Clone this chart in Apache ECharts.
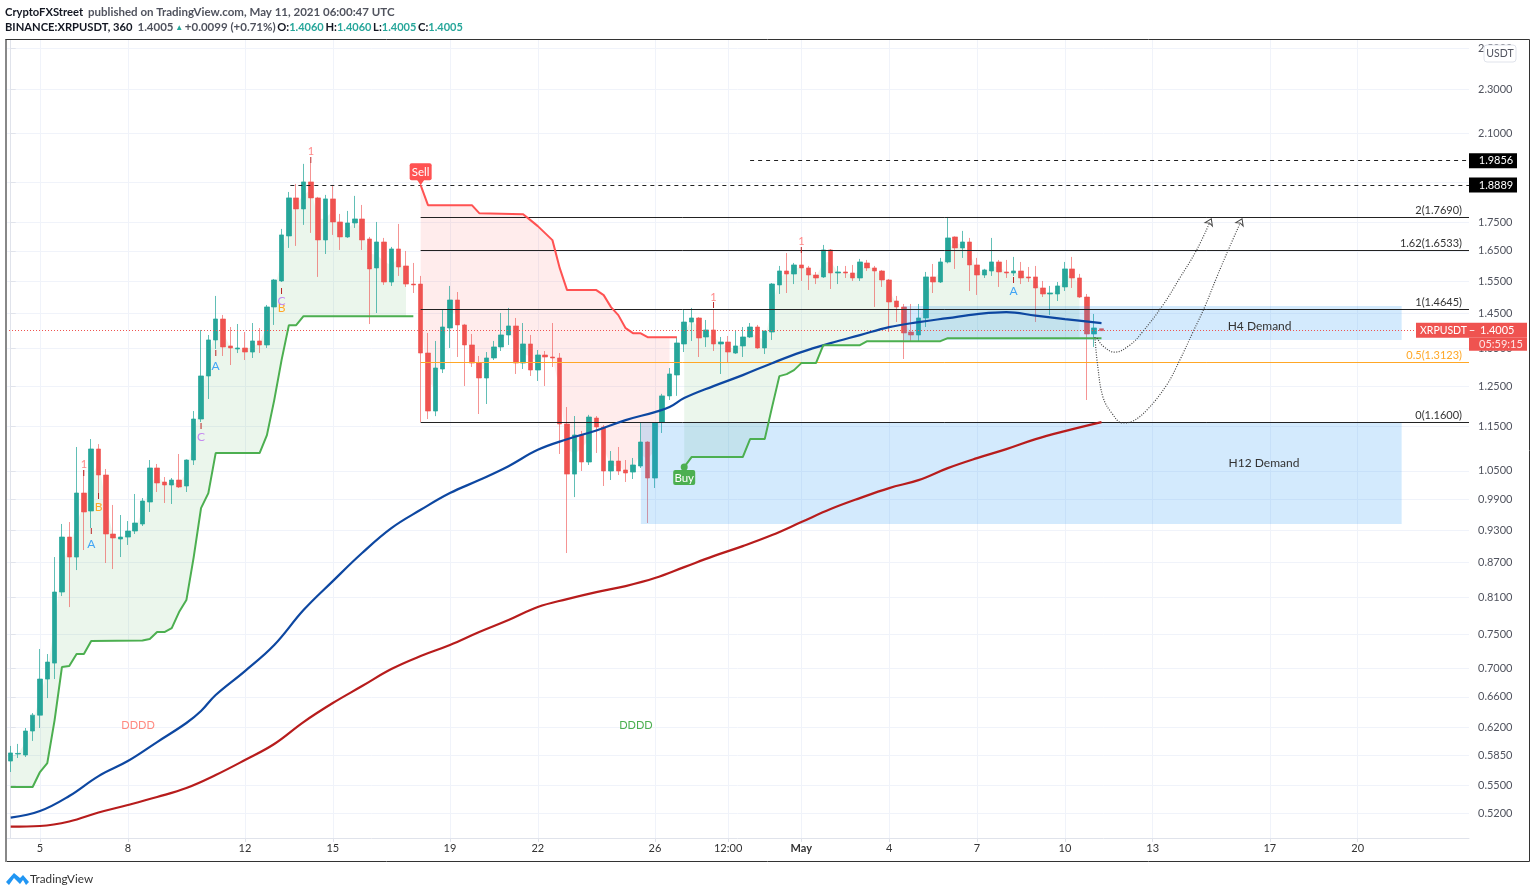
<!DOCTYPE html>
<html><head><meta charset="utf-8">
<style>html,body{margin:0;padding:0;background:#fff}#c{width:1536px;height:895px}</style>
<script src="https://cdn.jsdelivr.net/npm/echarts@6/dist/echarts.min.js"></script>
</head><body><div id="c"></div>
<script>
// x unit = one 6-hour candle; index 0 = 4 Apr 2021 00:00 UTC
const xTickIdx = [4,16,32,44,60,72,88,98,108,120,132,144,156,172,184];
const xTickLabels = ['5','8','12','15','19','22','26','12:00','May','4','7','10','13','17','20'];
const yTicks = [2.5,2.3,2.1,1.9,1.75,1.65,1.55,1.45,1.35,1.25,1.15,1.05,0.99,0.93,0.87,0.81,0.75,0.70,0.66,0.62,0.585,0.55,0.52];
// open, high, low, close
const ohlc = [
[.5786,.5968,.5657,.5883],[.5870,.5993,.5822,.5877],[.5858,.6192,.5834,.6154],[.6154,.6385,.6030,.6358],[.6358,.7283,.6192,.6847],
[.6847,.7208,.6585,.7090],[.7075,.8797,.6847,.8187],[.8187,.9415,.8120,.9166],[.9166,.9453,.7938,.8797],[.8797,1.1028,.8565,1.0033],
[1.0033,1.0519,.8925,.9650],[.9670,1.1210,.9338,1.0983],[1.0983,1.1094,1.0033,1.0412],[1.0412,1.0541,.8690,.9223],[.9223,.9790,.8583,.9148],
[.9129,.9590,.8797,.9166],[.9166,.9472,.9018,.9280],[.9280,1.0013,.9223,.9434],[.9415,.9931,.9376,.9870],[.9850,1.0737,.9650,1.0563],
[1.0563,1.0650,1.0054,1.0242],[1.0263,1.0368,.9830,1.0200],[1.0200,1.0347,.9810,1.0305],[1.0305,1.0870,1.0137,1.0158],[1.0179,1.0750,1.0054,1.0737],
[1.0737,1.1873,1.0628,1.1680],[1.1680,1.4024,1.1608,1.2760],[1.2760,1.3880,1.2170,1.3739],[1.3739,1.5039,1.3487,1.4344],[1.4344,1.4463,1.3294,1.3543],
[1.3571,1.4110,1.3050,1.3515],[1.3487,1.4197,1.3375,1.3515],[1.3515,1.3967,1.3185,1.3403],[1.3403,1.4226,1.3240,1.3711],[1.3711,1.4081,1.3375,1.3599],
[1.3599,1.4763,1.3515,1.4703],[1.4703,1.5573,1.4170,1.5541],[1.5509,1.7259,1.5476,1.7047],[1.7012,1.8620,1.6598,1.8394],[1.8394,1.8930,1.6666,1.7982],
[1.7982,1.9725,1.7402,1.9008],[1.9008,1.9766,1.7118,1.8394],[1.8394,1.8432,1.5638,1.6872],[1.6872,1.8508,1.6392,1.8356],[1.8356,1.8892,1.7047,1.7507],
[1.7507,1.7799,1.6529,1.6977],[1.6977,1.7908,1.6942,1.7471],[1.7471,1.8470,1.7294,1.7616],[1.7616,1.8130,1.6529,1.6872],[1.6907,1.6977,1.4196,1.5897],
[1.5930,1.7507,1.4521,1.6802],[1.6802,1.6942,1.5383,1.5476],[1.5476,1.6632,1.5351,1.6563],[1.6563,1.7436,1.5670,1.5961],[1.5995,1.6495,1.5320,1.5411],
[1.5411,1.6094,1.5130,1.5383],[1.5411,1.5670,1.1608,1.3375],[1.3375,1.3938,1.1680,1.1873],[1.1873,1.3711,1.1750,1.2970],[1.2944,1.4612,1.2837,1.4110],
[1.4081,1.5351,1.3515,1.4915],[1.4915,1.5161,1.3267,1.4170],[1.4170,1.4200,1.2500,1.3599],[1.3599,1.3909,1.2997,1.3103],[1.3103,1.3294,1.1801,1.2707],
[1.2707,1.3403,1.2046,1.3240],[1.3240,1.3711,1.3185,1.3543],[1.3543,1.4522,1.3431,1.3881],[1.3881,1.4673,1.3599,1.4140],[1.4140,1.4374,1.2812,1.3103],
[1.3103,1.4226,1.2944,1.3627],[1.3627,1.3881,1.2760,1.2917],[1.2917,1.3459,1.2629,1.3322],[1.3322,1.3431,1.2500,1.3267],[1.3267,1.4226,1.2997,1.3240],
[1.3240,1.3375,1.0870,1.1561],[1.1561,1.1971,.8870,1.0431],[1.0431,1.1752,.9950,1.1303],[1.1303,1.1397,1.0497,1.0693],[1.0693,1.1780,1.0628,1.1728],
[1.1704,1.1752,1.0893,1.1490],[1.1490,1.1537,1.0179,1.0497],[1.0497,1.0937,1.0305,1.0715],[1.0715,1.1028,1.0412,1.0497],[1.0519,1.0737,1.0263,1.0454],
[1.0475,1.0782,1.0326,1.0628],[1.0606,1.1585,1.0563,1.1141],[1.1141,1.1160,.9434,1.0347],[1.0347,1.1608,1.0137,1.1585],[1.1608,1.2300,1.1350,1.2248],
[1.2248,1.2970,1.2145,1.2812],[1.2786,1.3824,1.2248,1.3655],[1.3627,1.4612,1.3403,1.4255],[1.4255,1.4673,1.3711,1.4374],[1.4374,1.4400,1.3267,1.3795],
[1.3824,1.4315,1.3543,1.4024],[1.4024,1.4612,1.3431,1.3627],[1.3627,1.3824,1.2812,1.3683],[1.3683,1.3852,1.3103,1.3403],[1.3375,1.3995,1.3350,1.3571],
[1.3571,1.4110,1.3267,1.3824],[1.3824,1.4226,1.3795,1.4110],[1.4110,1.4170,1.3490,1.3515],[1.3515,1.4000,1.3348,1.3995],[1.3966,1.5444,1.3739,1.5413],
[1.5383,1.5995,1.5100,1.5831],[1.5831,1.6426,1.5130,1.5733],[1.5733,1.6094,1.5411,1.6028],[1.6028,1.6529,1.5509,1.5930],[1.5930,1.5995,1.5225,1.5700],
[1.5700,1.5799,1.5411,1.5605],[1.5638,1.6700,1.5605,1.6529],[1.6529,1.6560,1.5256,1.5766],[1.5766,1.5995,1.5411,1.5799],[1.5799,1.5995,1.5605,1.5766],
[1.5766,1.6028,1.5509,1.5605],[1.5605,1.6227,1.5509,1.6127],[1.6094,1.6193,1.5831,1.5930],[1.5930,1.5995,1.4703,1.5831],[1.5831,1.5864,1.5320,1.5541],
[1.5541,1.5573,1.3966,1.4854],[1.4884,1.5039,1.4255,1.4703],[1.4703,1.4793,1.3212,1.3938],[1.3966,1.4793,1.3711,1.3881],[1.3881,1.4793,1.3683,1.4374],
[1.4374,1.5799,1.4110,1.5638],[1.5638,1.6060,1.5130,1.5476],[1.5476,1.6261,1.5444,1.6127],[1.6127,1.7687,1.6080,1.6942],[1.6977,1.7000,1.5897,1.6598],
[1.6598,1.7188,1.6261,1.6802],[1.6802,1.6942,1.5193,1.6028],[1.6028,1.6261,1.5070,1.5700],[1.5700,1.5900,1.5605,1.5864],[1.5831,1.6942,1.5670,1.6127],
[1.6127,1.6193,1.5320,1.5799],[1.5799,1.6193,1.5605,1.5766],[1.5766,1.6294,1.5670,1.5831],[1.5831,1.6127,1.5411,1.5605],[1.5638,1.5961,1.5476,1.5605],
[1.5638,1.5995,1.4255,1.5288],[1.5288,1.5509,1.5006,1.5100],[1.5100,1.5351,1.4463,1.5131],[1.5100,1.5476,1.4884,1.5351],[1.5320,1.6127,1.5193,1.5897],
[1.5897,1.6294,1.5288,1.5605],[1.5605,1.5736,1.4975,1.5006],[1.5006,1.5100,1.2145,1.3909],[1.3909,1.4493,1.3543,1.4082],[1.4060,1.4060,1.4005,1.4005]
];
const emaBlue = [[0,.5152],[4,.5221],[8,.5385],[12,.5610],[16,.5786],[20,.6016],[24,.6256],[26,.6412],[28,.6626],[32,.6960],[36,.7342],[40,.7889],[44,.8373],[48,.8870],[52,.9336],[56,.9693],[60,1.0032],[64,1.0304],[68,1.0602],[72,1.0963],[76,1.1204],[80,1.1408],[84,1.1654],[88,1.1847],[90,1.1970],[92,1.2193],[96,1.2497],[100,1.2782],[104,1.3100],[108,1.3400],[112,1.3650],[116,1.3876],[120,1.4106],[124,1.4251],[128,1.4369],[132,1.4487],[136,1.4547],[140,1.4443],[144,1.4340],[149,1.4223]];
const emaRed = [[0,.5056],[4,.5063],[8,.5110],[12,.5205],[16,.5286],[20,.5374],[24,.5474],[28,.5622],[32,.5798],[36,.5992],[40,.6268],[44,.6518],[48,.6749],[52,.6989],[56,.7178],[60,.7342],[64,.7541],[68,.7729],[72,.7938],[76,.8069],[80,.8186],[84,.8288],[88,.8425],[92,.8617],[96,.8814],[100,.8997],[104,.9203],[108,.9452],[112,.9708],[116,.9929],[120,1.0135],[124,1.0303],[128,1.0560],[132,1.0779],[136,1.0980],[140,1.1208],[144,1.1394],[149,1.1606]];
const stGreenA = [[0,.5485],[3,.5485],[4,.5657],[5,.5762],[6,.6294],[7,.7018],[8,.7032],[9,.7208],[10,.7208],[11,.7403],[18,.7410],[19,.7433],[20,.7541],[21,.7541],[22,.7603],[23,.7857],[24,.8053],[25,.8796],[26,.9727],[27,1.0032],[28,1.0890],[34,1.0890],[35,1.1301],[36,1.2143],[37,1.3182],[38,1.4164],[39,1.4164],[40,1.4428],[55,1.4428]];
const stRed = [[56,1.8882],[57,1.8122],[63,1.8122],[64,1.7827],[70,1.7790],[71,1.7573],[72,1.7358],[73,1.7110],[74,1.6866],[75,1.5923],[76,1.5220],[80,1.5220],[81,1.5064],[82,1.4698],[83,1.4458],[84,1.4077],[85,1.3933],[86,1.3933],[87,1.3819],[91,1.3819]];
const stGreenB = [[92,1.0582],[93,1.0801],[100,1.0801],[101,1.1208],[103,1.1208],[104,1.1969],[105,1.2756],[106,1.2809],[107,1.2914],[108,1.3101],[110,1.3101],[111,1.3594],[116,1.3594],[117,1.3706],[127,1.3706],[128,1.3791],[149,1.3791]];
const pathNear = [[148.4,1.3795],[149.2,1.357],[150.8,1.340],[152.9,1.360],[154.6,1.3966],[157.4,1.4763],[159.7,1.5605],[162,1.6529],[164,1.7616]];
const pathDeep = [[148.1,1.382],[148.5,1.2997],[149.2,1.2220],[150.4,1.1825],[151.9,1.1585],[153.3,1.1632],[155.2,1.1898],[157.9,1.2525],[159.7,1.3185],[161.5,1.3966],[163.1,1.4703],[164.7,1.5605],[166.5,1.6632],[168.2,1.7616]];
// [start index, price, label]
const fibLevels = [[56,1.7690,'2(1.7690)'],[56,1.6533,'1.62(1.6533)'],[56,1.4645,'1(1.4645)'],[56,1.1600,'0(1.1600)']];
const fibHalf = [56,1.3123,'0.5(1.3123)'];
const targets = [[101,1.9856],[38.2,1.8889]];
const lastPrice = 1.4005;
// [from idx, to idx, top price, bottom price]
const zones = [[121.9,190,1.4732,1.3739],[86.07,190,1.1585,.9415]];
const zoneLabels = [[170.6,1.414,'H4 Demand'],[171.2,1.067,'H12 Demand']];
const ddddRed = [[17.4,.6231]], ddddGreen = [[85.4,.6231]];
const marks1 = [[10,1.065],[41,2.025],[96,1.498],[108,1.683]];
const marksA = [[11,.903],[28,1.302],[137,1.519]];
const marksB = [[12,.975],[37,1.467]];
const marksC = [[26,1.126],[37,1.488]];
const marksTick = [[10,1.043],[11,.926],[12,.995],[26,1.149],[28,1.335],[37,1.516],[41,1.987],[96,1.473],[108,1.649],[137,1.551]];
const sellAt = [56,1.8882], buyAt = [92,1.0582];

const X_MIN = -0.64, X_MAX = 199.2, Y_MIN = 0.4940, Y_MAX = 2.5440;
const FONT = 'Lato, "Open Sans", sans-serif';
const UP = '#26a69a', DOWN = '#ef5350';
const candleData = ohlc.map((d, i) => [i, d[0], d[3], d[2], d[1]]);
const mid = i => (ohlc[i][0] + ohlc[i][3]) / 2;

function bandSeries(line, from, to, color) {
  return {
    type: 'custom', z: 1, silent: true, data: [[from, line[0][1]]],
    renderItem(p, api) {
      const pts = [];
      for (let i = from; i <= to; i++) pts.push(api.coord([i, mid(i)]));
      const inside = line.filter(d => d[0] <= to);
      pts.push(api.coord([to, inside[inside.length - 1][1]]));
      for (let k = inside.length - 1; k >= 0; k--) pts.push(api.coord(inside[k]));
      return { type: 'polygon', shape: { points: pts }, style: { fill: color } };
    }
  };
}
function lineSeries(data, color, width, smooth, extra) {
  return Object.assign({ type: 'line', data, symbol: 'none', silent: true, z: 5, clip: false, smooth: smooth || false,
    lineStyle: { color, width }, animation: false }, extra || {});
}
function textSeries(data, text, color, size, weight) {
  return {
    type: 'custom', z: 8, silent: true, data,
    renderItem(p, api) {
      const c = api.coord([api.value(0), api.value(1)]);
      const t = typeof text === 'function' ? text(p.dataIndex) : text;
      return { type: 'text', x: c[0], y: c[1], style: { text: t, fill: color, fontSize: size, fontFamily: FONT, fontWeight: weight || 'normal', align: 'center', verticalAlign: 'middle' } };
    }
  };
}
const fibLabel = (txt, col) => ({ show: true, position: 'insideEndTop', formatter: txt, color: col, fontSize: 11, fontFamily: FONT, distance: 1, padding: [0,6,0,0] });
const levelLines = {
  silent: true, symbol: 'none', animation: false, precision: 4,
  data: [
    ...fibLevels.map(f => [
      { coord: [f[0], f[1]], lineStyle: { color: '#222', width: 1, type: 'solid' }, label: fibLabel(f[2], '#333') },
      { coord: [X_MAX, f[1]] }]),
    [{ coord: [fibHalf[0], fibHalf[1]], lineStyle: { color: '#ffa726', width: 1, type: 'solid' }, label: fibLabel(fibHalf[2], '#ffa726') },
     { coord: [X_MAX, fibHalf[1]] }],
    ...targets.map(f => [
      { coord: [f[0], f[1]], lineStyle: { color: '#222', width: 1, type: [4,4] }, label: { show: false } },
      { coord: [X_MAX, f[1]] }]),
    [{ coord: [X_MIN, lastPrice], lineStyle: { color: '#ef5350', width: 1, type: [1,2] }, label: { show: false } },
     { coord: [X_MAX, lastPrice] }]
  ]
};
const series = [
  bandSeries(stGreenA, 0, 54, 'rgba(76,175,80,.11)'),
  bandSeries(stRed, 56, 90, 'rgba(255,82,82,.11)'),
  bandSeries(stGreenB, 92, 146, 'rgba(76,175,80,.11)'),
  {
    type: 'candlestick', z: 3, barWidth: 5, silent: true, data: candleData,
    itemStyle: { color: UP, color0: DOWN, borderColor: 'rgba(38,166,154,.72)', borderColor0: 'rgba(239,83,80,.62)', borderWidth: 1 }
  },
  {
    type: 'custom', z: 4, silent: true, data: zones,
    renderItem(p, api) {
      const a = api.coord([api.value(0), api.value(2)]), b = api.coord([api.value(1), api.value(3)]);
      return { type: 'rect', shape: { x: a[0], y: a[1], width: b[0] - a[0], height: b[1] - a[1] }, style: { fill: 'rgba(33,150,243,.2)' } };
    }
  },
  lineSeries(emaRed, '#b71c1c', 2.2, 0.4, { markLine: levelLines }),
  lineSeries(emaBlue, '#0d47a1', 2.2, 0.4),
  lineSeries(stGreenA, '#4caf50', 2),
  lineSeries(stRed, '#ff5252', 2),
  lineSeries(stGreenB, '#4caf50', 2),
  ...[pathNear, pathDeep].map(path => ({
    type: 'line', silent: true, z: 7, smooth: 0.4, symbol: 'none', clip: false,
    data: path.map((d, i) => i === path.length - 1 ? { value: d, symbol: 'arrow', symbolSize: 6, symbolRotate: -25, itemStyle: { color: '#fff', borderColor: '#444', borderWidth: 1 } } : d),
    lineStyle: { color: '#444', width: 1.2, type: [1,1.5] }, animation: false
  })),
  textSeries(zoneLabels, i => zoneLabels[i][2], '#333', 12),
  textSeries(ddddRed, 'DDDD', '#ff8a80', 11),
  textSeries(ddddGreen, 'DDDD', '#4caf50', 11),
  textSeries(marks1, '1', '#f88', 11),
  textSeries(marksA, 'A', '#42a5f5', 12),
  textSeries(marksB, 'B', '#ffa726', 12),
  textSeries(marksC, 'C', '#c58af0', 12),
  textSeries(marksTick, 'I', '#b71c1c', 7, 'bold'),
  { // Sell / Buy flags
    type: 'custom', z: 9, silent: true, data: [sellAt, buyAt],
    renderItem(p, api) {
      const c = api.coord([api.value(0), api.value(1)]);
      const sell = p.dataIndex === 0, col = sell ? '#ff5252' : '#4caf50';
      const top = sell ? c[1] - 22 : c[1] + 3;
      const h = sell ? 17 : 15;
      const kids = [
        { type: 'rect', shape: { x: c[0] - 11, y: top, width: 22, height: h, r: 2 }, style: { fill: col } },
        { type: 'text', x: c[0], y: top + h / 2 + .5, style: { text: sell ? 'Sell' : 'Buy', fill: '#fff', fontSize: 11.5, fontFamily: FONT, align: 'center', verticalAlign: 'middle' } }
      ];
      if (sell) kids.push({ type: 'polygon', shape: { points: [[c[0]-4,c[1]-6],[c[0]+4,c[1]-6],[c[0],c[1]]] }, style: { fill: col } });
      else kids.push({ type: 'circle', shape: { cx: c[0], cy: c[1], r: 3.5 }, style: { fill: col } });
      return { type: 'group', children: kids };
    }
  },
  { // price tags on the axis
    type: 'custom', z: 12, silent: true, data: targets.map(t => [X_MAX, t[1]]),
    renderItem(p, api) {
      const c = api.coord([api.value(0), api.value(1)]);
      return { type: 'group', children: [
        { type: 'rect', shape: { x: c[0], y: c[1] - 7.5, width: 48, height: 15 }, style: { fill: '#000' } },
        { type: 'text', x: c[0] + 27, y: c[1], style: { text: api.value(1).toFixed(4), fill: '#fff', fontSize: 11, fontFamily: FONT, align: 'center', verticalAlign: 'middle' } }
      ] };
    }
  },
  {
    type: 'custom', z: 12, silent: true, data: [[X_MAX, lastPrice]],
    renderItem(p, api) {
      const c = api.coord([api.value(0), api.value(1)]);
      return { type: 'group', children: [
        { type: 'rect', shape: { x: c[0] - 53, y: c[1] - 8, width: 111, height: 15 }, style: { fill: '#ef5350' } },
        { type: 'rect', shape: { x: c[0], y: c[1] + 7, width: 58, height: 13 }, style: { fill: '#ef5350' } },
        { type: 'text', x: c[0] - 49, y: c[1], style: { text: 'XRPUSDT', fill: '#fff', fontSize: 10.5, fontFamily: FONT, verticalAlign: 'middle' } },
        { type: 'text', x: c[0] + 0, y: c[1], style: { text: '−', fill: '#fff', fontSize: 10.5, fontFamily: FONT, verticalAlign: 'middle' } },
        { type: 'text', x: c[0] + 11, y: c[1], style: { text: lastPrice.toFixed(4), fill: '#fff', fontSize: 11, fontFamily: FONT, verticalAlign: 'middle' } },
        { type: 'text', x: c[0] + 10, y: c[1] + 13.5, style: { text: '05:59:15', fill: '#fff', opacity: .85, fontSize: 11, fontFamily: FONT, verticalAlign: 'middle' } }
      ] };
    }
  }
];
const teal = { color: '#26a69a', fontSize: 11, fontFamily: FONT };
const arrow = { color: '#26a69a', fontSize: 8, fontFamily: FONT };
const bold = { color: '#131722', fontSize: 11.2, fontWeight: 'bold', fontFamily: FONT };
const grey = { color: '#50535e', fontSize: 11.5, fontFamily: FONT };
const thin = { fontSize: 7, fontFamily: FONT };
const option = {
  animation: false,
  backgroundColor: '#fff',
  title: [
    { left: 5, top: 3, padding: 0, text: '{b|CryptoFXStreet} {g|published on TradingView.com, May 11, 2021 06:00:47 UTC}', textStyle: { rich: { b: bold, g: grey } } },
    { left: 5, top: 18, padding: 0, text: '{b|BINANCE:XRPUSDT, 360} {g|1.4005}{s| }{a|▲}{s| }{g|+0.0099 (+0.71%)}{s| }{b|O:}{t|1.4060}{s| }{b|H:}{t|1.4060}{s| }{b|L:}{t|1.4005}{s| }{b|C:}{t|1.4005}', textStyle: { rich: { b: bold, g: grey, t: teal, a: arrow, s: thin } } }
  ],
  grid: { left: 6, right: 67, top: 40, bottom: 57, containLabel: false },
  xAxis: {
    type: 'value', min: X_MIN, max: X_MAX,
    axisLine: { show: true, lineStyle: { color: '#e0e3eb' } },
    axisTick: { show: true, length: 4, lineStyle: { color: '#e0e3eb' }, customValues: xTickIdx },
    axisLabel: { customValues: xTickIdx, showMinLabel: true, showMaxLabel: true, margin: 5, color: '#333', fontSize: 11, fontFamily: FONT,
      formatter: v => { const s = xTickLabels[xTickIdx.indexOf(v)]; return s === 'May' ? '{m|May}' : s; },
      rich: { m: { fontWeight: 'bold', fontSize: 11, fontFamily: FONT, color: '#333' } } },
    splitLine: { show: true, lineStyle: { color: '#f0f3fa' } }
  },
  yAxis: {
    type: 'log', position: 'right', min: Y_MIN, max: Y_MAX,
    axisLine: { show: true, lineStyle: { color: '#e0e3eb' } },
    axisTick: { show: true, length: 5, lineStyle: { color: '#e0e3eb' }, customValues: yTicks },
    axisLabel: { customValues: yTicks, margin: 9, color: '#50535e', fontSize: 11, fontFamily: FONT, formatter: v => (+v).toFixed(4) },
    splitLine: { show: true, lineStyle: { color: '#f0f3fa' } }
  },
  series,
  graphic: [
    { type: 'rect', z: 20, silent: true, shape: { x: 5.5, y: 39.5, width: 1524, height: 822 }, style: { fill: 'none', stroke: '#333', lineWidth: 1 } },
    { type: 'rect', z: 20, silent: true, shape: { x: 5, y: 40, width: 2, height: 822 }, style: { fill: '#888' } },
    { type: 'rect', z: 21, silent: true, shape: { x: 1484, y: 45, width: 32, height: 17, r: 3 }, style: { fill: '#fff', stroke: '#e0e3eb' } },
    { type: 'text', z: 22, silent: true, x: 1500, y: 54, style: { text: 'USDT', fill: '#50535e', fontSize: 10.5, fontFamily: FONT, align: 'center', verticalAlign: 'middle' } },
    { type: 'polygon', z: 20, silent: true, shape: { points: [[6,882],[14,873],[20,878],[23,875],[29,882],[26,885],[23,880],[20,884],[14,878],[9,885]] }, style: { fill: '#2196f3' } },
    { type: 'text', z: 20, silent: true, x: 30, y: 879, style: { text: 'TradingView', fill: '#333', fontSize: 11.7, fontFamily: FONT, verticalAlign: 'middle' } }
  ]
};
const chart = echarts.init(document.getElementById('c'));
chart.setOption(option);
</script></body></html>
